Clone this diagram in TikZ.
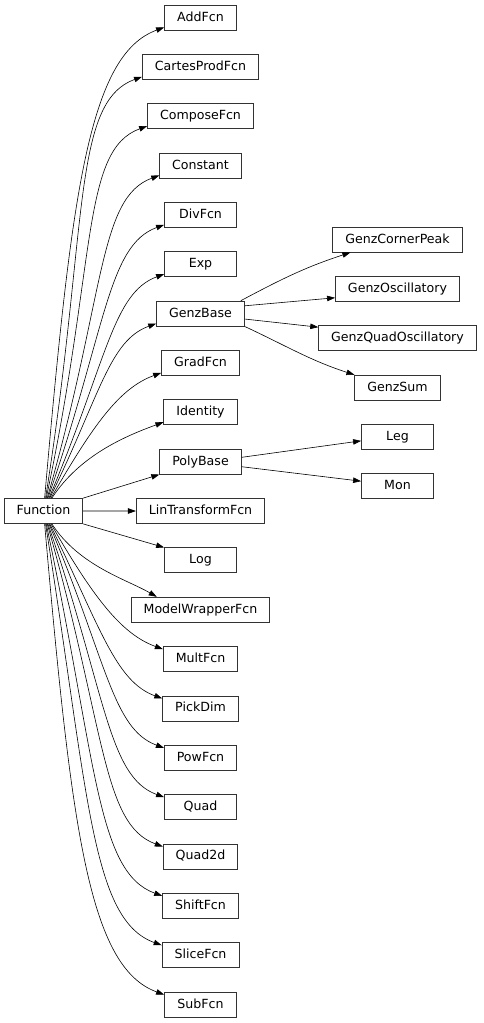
\documentclass[tikz,border=0pt]{standalone}
\usepackage{fontspec}
\setmainfont{DejaVu Sans}
\usepackage{tikz}
\usetikzlibrary{arrows.meta}

\begin{document}
\begin{tikzpicture}[x=1pt,y=1pt,
    box/.style={draw=black!80,line width=0.8pt,fill=white,minimum width=72pt,
                minimum height=25pt,inner xsep=12.5pt,inner ysep=0pt,
                text height=9.5pt,text depth=2.5pt,
                font=\fontsize{12.6}{15}\selectfont},
    inh/.style={draw=black,line width=0.6pt,-{Triangle[length=8pt,width=5.5pt]}}]
  \useasboundingbox (0,0) rectangle (483,-1023);
  % base class
  \node[box] (func) at (43.5,-511) {Function};
  % direct subclasses, one per row
  \foreach \n/\t [count=\i from 0] in {addfcn/AddFcn, cartes/CartesProdFcn,
      compose/ComposeFcn, constant/Constant, divfcn/DivFcn, exp/Exp,
      genzbase/GenzBase, gradfcn/GradFcn, identity/Identity, polybase/PolyBase,
      lintrans/LinTransformFcn, log/Log, mwrap/ModelWrapperFcn, multfcn/MultFcn,
      pickdim/PickDim, powfcn/PowFcn, quad/Quad, quadtwo/Quad2d,
      shiftfcn/ShiftFcn, slicefcn/SliceFcn, subfcn/SubFcn}
    \node[box] (\n) at (200.5,{-17.5-49.35*\i}) {\t};
  % second level
  \node[box] (gcorner) at (397.5,-239.6) {GenzCornerPeak};
  \node[box] (gosc) at (397.5,-289) {GenzOscillatory};
  \node[box] (gquad) at (397.5,-338.3) {GenzQuadOscillatory};
  \node[box] (gsum) at (397.5,-387.7) {GenzSum};
  \node[box] (leg) at (397.5,-437) {Leg};
  \node[box] (mon) at (397.5,-486.3) {Mon};

  % edges from Function, upper half
  \foreach \n/\d in {addfcn/10, cartes/9, compose/8, constant/7, divfcn/6,
                     exp/5, genzbase/4, gradfcn/3, identity/2}{
    \pgfmathtruncatemacro{\ang}{50+3.5*\d}
    \pgfmathsetmacro{\odist}{0.65*(49.35*\d-20)}
    \pgfmathsetmacro{\idist}{30+5*\d}
    \draw[inh] (func.\ang) to[out=\ang,in=200,out distance=\odist pt,
      in distance=\idist pt] ([yshift=3pt]\n.south west);
  }
  % edges from Function, lower half
  \foreach \n/\d in {multfcn/3, pickdim/4, powfcn/5, quad/6, quadtwo/7,
                     shiftfcn/8, slicefcn/9, subfcn/10}{
    \pgfmathtruncatemacro{\ang}{50+3.5*\d}
    \pgfmathsetmacro{\odist}{0.65*(49.35*\d-20)}
    \pgfmathsetmacro{\idist}{30+5*\d}
    \draw[inh] (func.-\ang) to[out=-\ang,in=160,out distance=\odist pt,
      in distance=\idist pt] ([yshift=-3pt]\n.north west);
  }
  \draw[inh] (func.-57) to[out=-57,in=150,out distance=50pt,in distance=35pt]
    ([xshift=26pt]mwrap.north west);
  \draw[inh] (func.north east) -- (polybase.south west);
  \draw[inh] (func.east) -- (lintrans.west);
  \draw[inh] (func.south east) -- (log.north west);

  % edges to second level
  \draw[inh] ([xshift=-4pt]genzbase.north east) to[out=28,in=198]
    ([xshift=18pt]gcorner.south west);
  \draw[inh] (genzbase.10) -- (gosc.188);
  \draw[inh] (genzbase.-7) -- (gquad.172);
  \draw[inh] (genzbase.south east) to[out=-25,in=162] (gsum.north west);
  \draw[inh] (polybase.6) -- (leg.186);
  \draw[inh] (polybase.-7) -- (mon.172);
\end{tikzpicture}
\end{document}
